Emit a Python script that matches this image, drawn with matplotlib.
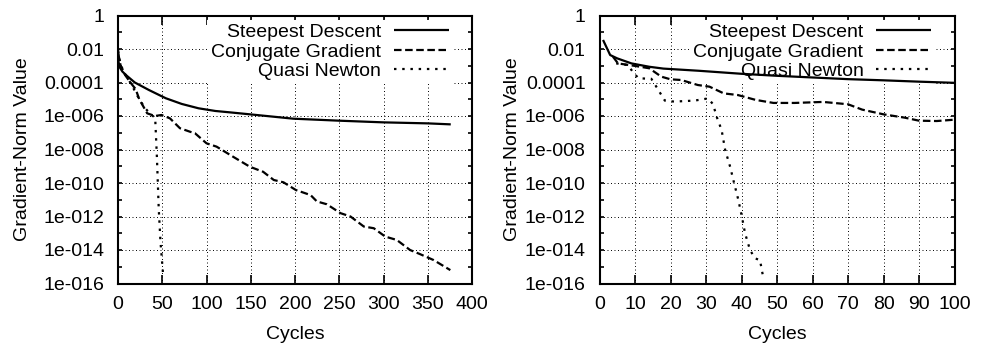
import numpy as np
import matplotlib
matplotlib.use("Agg")
import matplotlib.pyplot as plt
from matplotlib.ticker import FixedLocator, FixedFormatter, NullFormatter

plt.rcParams['font.family'] = ['Liberation Sans', 'DejaVu Sans']

# ---- data (log10 of gradient norm) ----
# Left panel
sd_left_x = [0, 0.5, 2, 5, 10, 19, 35, 54, 72, 91, 110, 126, 149, 198, 250, 300, 350, 376]
sd_left_log = [-1.94, -2.75, -3.1, -3.35, -3.6, -4.0, -4.45, -4.94, -5.28, -5.54, -5.7,
               -5.78, -5.9, -6.16, -6.28, -6.38, -6.44, -6.5]
cg_left_x = [0, 3, 8, 14, 20, 24, 33, 41.7, 49.2, 58.7, 70, 81.4, 87, 100, 111.4, 130, 149,
             164, 176, 187, 201, 217.6, 224.7, 236, 251.4, 262.7, 277.8, 289, 302, 315, 330,
             341, 356.6, 375.5]
cg_left_log = [-2.2, -3.0, -3.55, -4.0, -4.4, -5.0, -5.84, -6.0, -5.94, -6.14, -6.73, -6.94,
               -7.03, -7.63, -7.83, -8.43, -9.03, -9.33, -9.82, -9.96, -10.42, -10.72, -11.1,
               -11.27, -11.8, -12.0, -12.6, -12.7, -13.2, -13.4, -14.0, -14.24, -14.6, -15.2]
qn_left_x = [0, 3, 8, 15, 22, 30, 38, 42, 44, 46, 48, 51]
qn_left_log = [-2.1, -2.95, -3.5, -4.1, -4.8, -5.5, -5.95, -6.1, -8.5, -11.5, -13.5, -15.5]

# Right panel
sd_right_x = [1, 3, 5, 9, 14, 18, 28, 40, 50, 60, 70, 80, 90, 100]
sd_right_log = [-1.46, -2.36, -2.56, -2.86, -3.06, -3.17, -3.3, -3.48, -3.6, -3.7, -3.8,
                -3.87, -3.95, -4.02]
cg_right_x = [3.8, 5.2, 10, 14, 17.4, 20, 23, 27.7, 31, 35, 39, 44, 49, 55, 63, 70, 74, 80,
              86, 90, 95, 100]
cg_right_log = [-2.46, -2.86, -3.01, -3.15, -3.65, -3.81, -3.85, -4.15, -4.25, -4.65, -4.75,
                -5.04, -5.22, -5.22, -5.16, -5.3, -5.62, -5.9, -6.1, -6.28, -6.3, -6.22]
qn_right_x = [4.7, 8, 9.5, 11, 14.6, 16, 18.4, 21, 26.8, 30.6, 32, 33, 34.4, 35.4, 36.8, 37.7,
              39.1, 40.1, 41, 42.4, 43.8, 45.2, 46]
qn_right_log = [-2.86, -2.96, -3.4, -3.75, -3.78, -4.25, -5.08, -5.14, -5.08, -4.95, -5.3,
                -6.04, -6.84, -8.03, -9.03, -9.82, -11.0, -12.0, -13.0, -14.0, -14.5, -14.6,
                -15.5]

series_labels = ["Steepest Descent", "Conjugate Gradient", "Quasi Newton"]
ytick_vals = [1, 1e-2, 1e-4, 1e-6, 1e-8, 1e-10, 1e-12, 1e-14, 1e-16]
ytick_labels = ["1", "0.01", "0.0001", "1e-006", "1e-008", "1e-010", "1e-012", "1e-014", "1e-016"]
yminor_vals = [1e-1, 1e-3, 1e-5, 1e-7, 1e-9, 1e-11, 1e-13, 1e-15]
left_xticks = [0, 50, 100, 150, 200, 250, 300, 350, 400]
right_xticks = [0, 10, 20, 30, 40, 50, 60, 70, 80, 90, 100]

FS = 14
W, H = 985, 351
fig = plt.figure(figsize=(W / 100, H / 100), dpi=100)

def make_axes(l_px, r_px):
    return fig.add_axes([l_px / W, 1 - 283.5 / H, (r_px - l_px) / W, (283.5 - 15.5) / H])

axL = make_axes(118, 472)
axR = make_axes(599.5, 954.5)

styles = [dict(linestyle='-'),
          dict(linestyle=(0, (3.4, 1.6))),
          dict(linestyle=(0, (1.1, 2.6)))]

panels = [
    (axL, [(sd_left_x, sd_left_log), (cg_left_x, cg_left_log), (qn_left_x, qn_left_log)],
     (0, 400), left_xticks, -0.246, (448 - 118) / 354),
    (axR, [(sd_right_x, sd_right_log), (cg_right_x, cg_right_log), (qn_right_x, qn_right_log)],
     (0, 100), right_xticks, -0.221, (930 - 599.5) / 355),
]

for ax, data, xlim, xticks, ylab_x, leg_x in panels:
    for (x, lg), st, lab in zip(data, styles, series_labels):
        ax.plot(x, 10.0 ** np.array(lg), color='black', lw=1.6, label=lab, zorder=3,
                solid_capstyle='butt', dash_capstyle='butt', **st)
    ax.set_yscale('log')
    ax.set_ylim(1e-16, 1)
    ax.set_xlim(*xlim)
    ax.yaxis.set_major_locator(FixedLocator(ytick_vals))
    ax.yaxis.set_major_formatter(FixedFormatter(ytick_labels))
    ax.yaxis.set_minor_locator(FixedLocator(yminor_vals))
    ax.yaxis.set_minor_formatter(NullFormatter())
    ax.set_xticks(xticks)
    ax.set_xticklabels([str(t) for t in xticks])
    ax.tick_params(axis='x', which='major', direction='in', length=6.5, width=1.2,
                   top=True, bottom=True, labelsize=FS, pad=9)
    ax.tick_params(axis='y', which='both', direction='in', length=3.2, width=1.2,
                   left=True, right=True, labelsize=FS, pad=10)
    for sp in ax.spines.values():
        sp.set_linewidth(1.5)
    ax.set_axisbelow(True)
    ax.grid(True, which='major', color='black', lw=0.7, linestyle=(0, (1, 2.6)))
    ax.set_xlabel("Cycles", fontsize=FS)
    ax.xaxis.set_label_coords(0.5, -0.16)
    ax.xaxis.label.set_va('top')
    ax.set_ylabel("Gradient-Norm Value", fontsize=FS)
    ax.yaxis.set_label_coords(ylab_x, 0.5)
    leg = ax.legend(loc='upper right', bbox_to_anchor=(leg_x + 0.015, 0.985),
                    markerfirst=False, frameon=True, fancybox=False, framealpha=1,
                    facecolor='white', edgecolor='none', fontsize=FS,
                    handlelength=2.85, handletextpad=0.65, labelspacing=0.1,
                    borderpad=0.2, borderaxespad=0)
    leg.set_zorder(2)

fig.savefig("out.png", dpi=100)
